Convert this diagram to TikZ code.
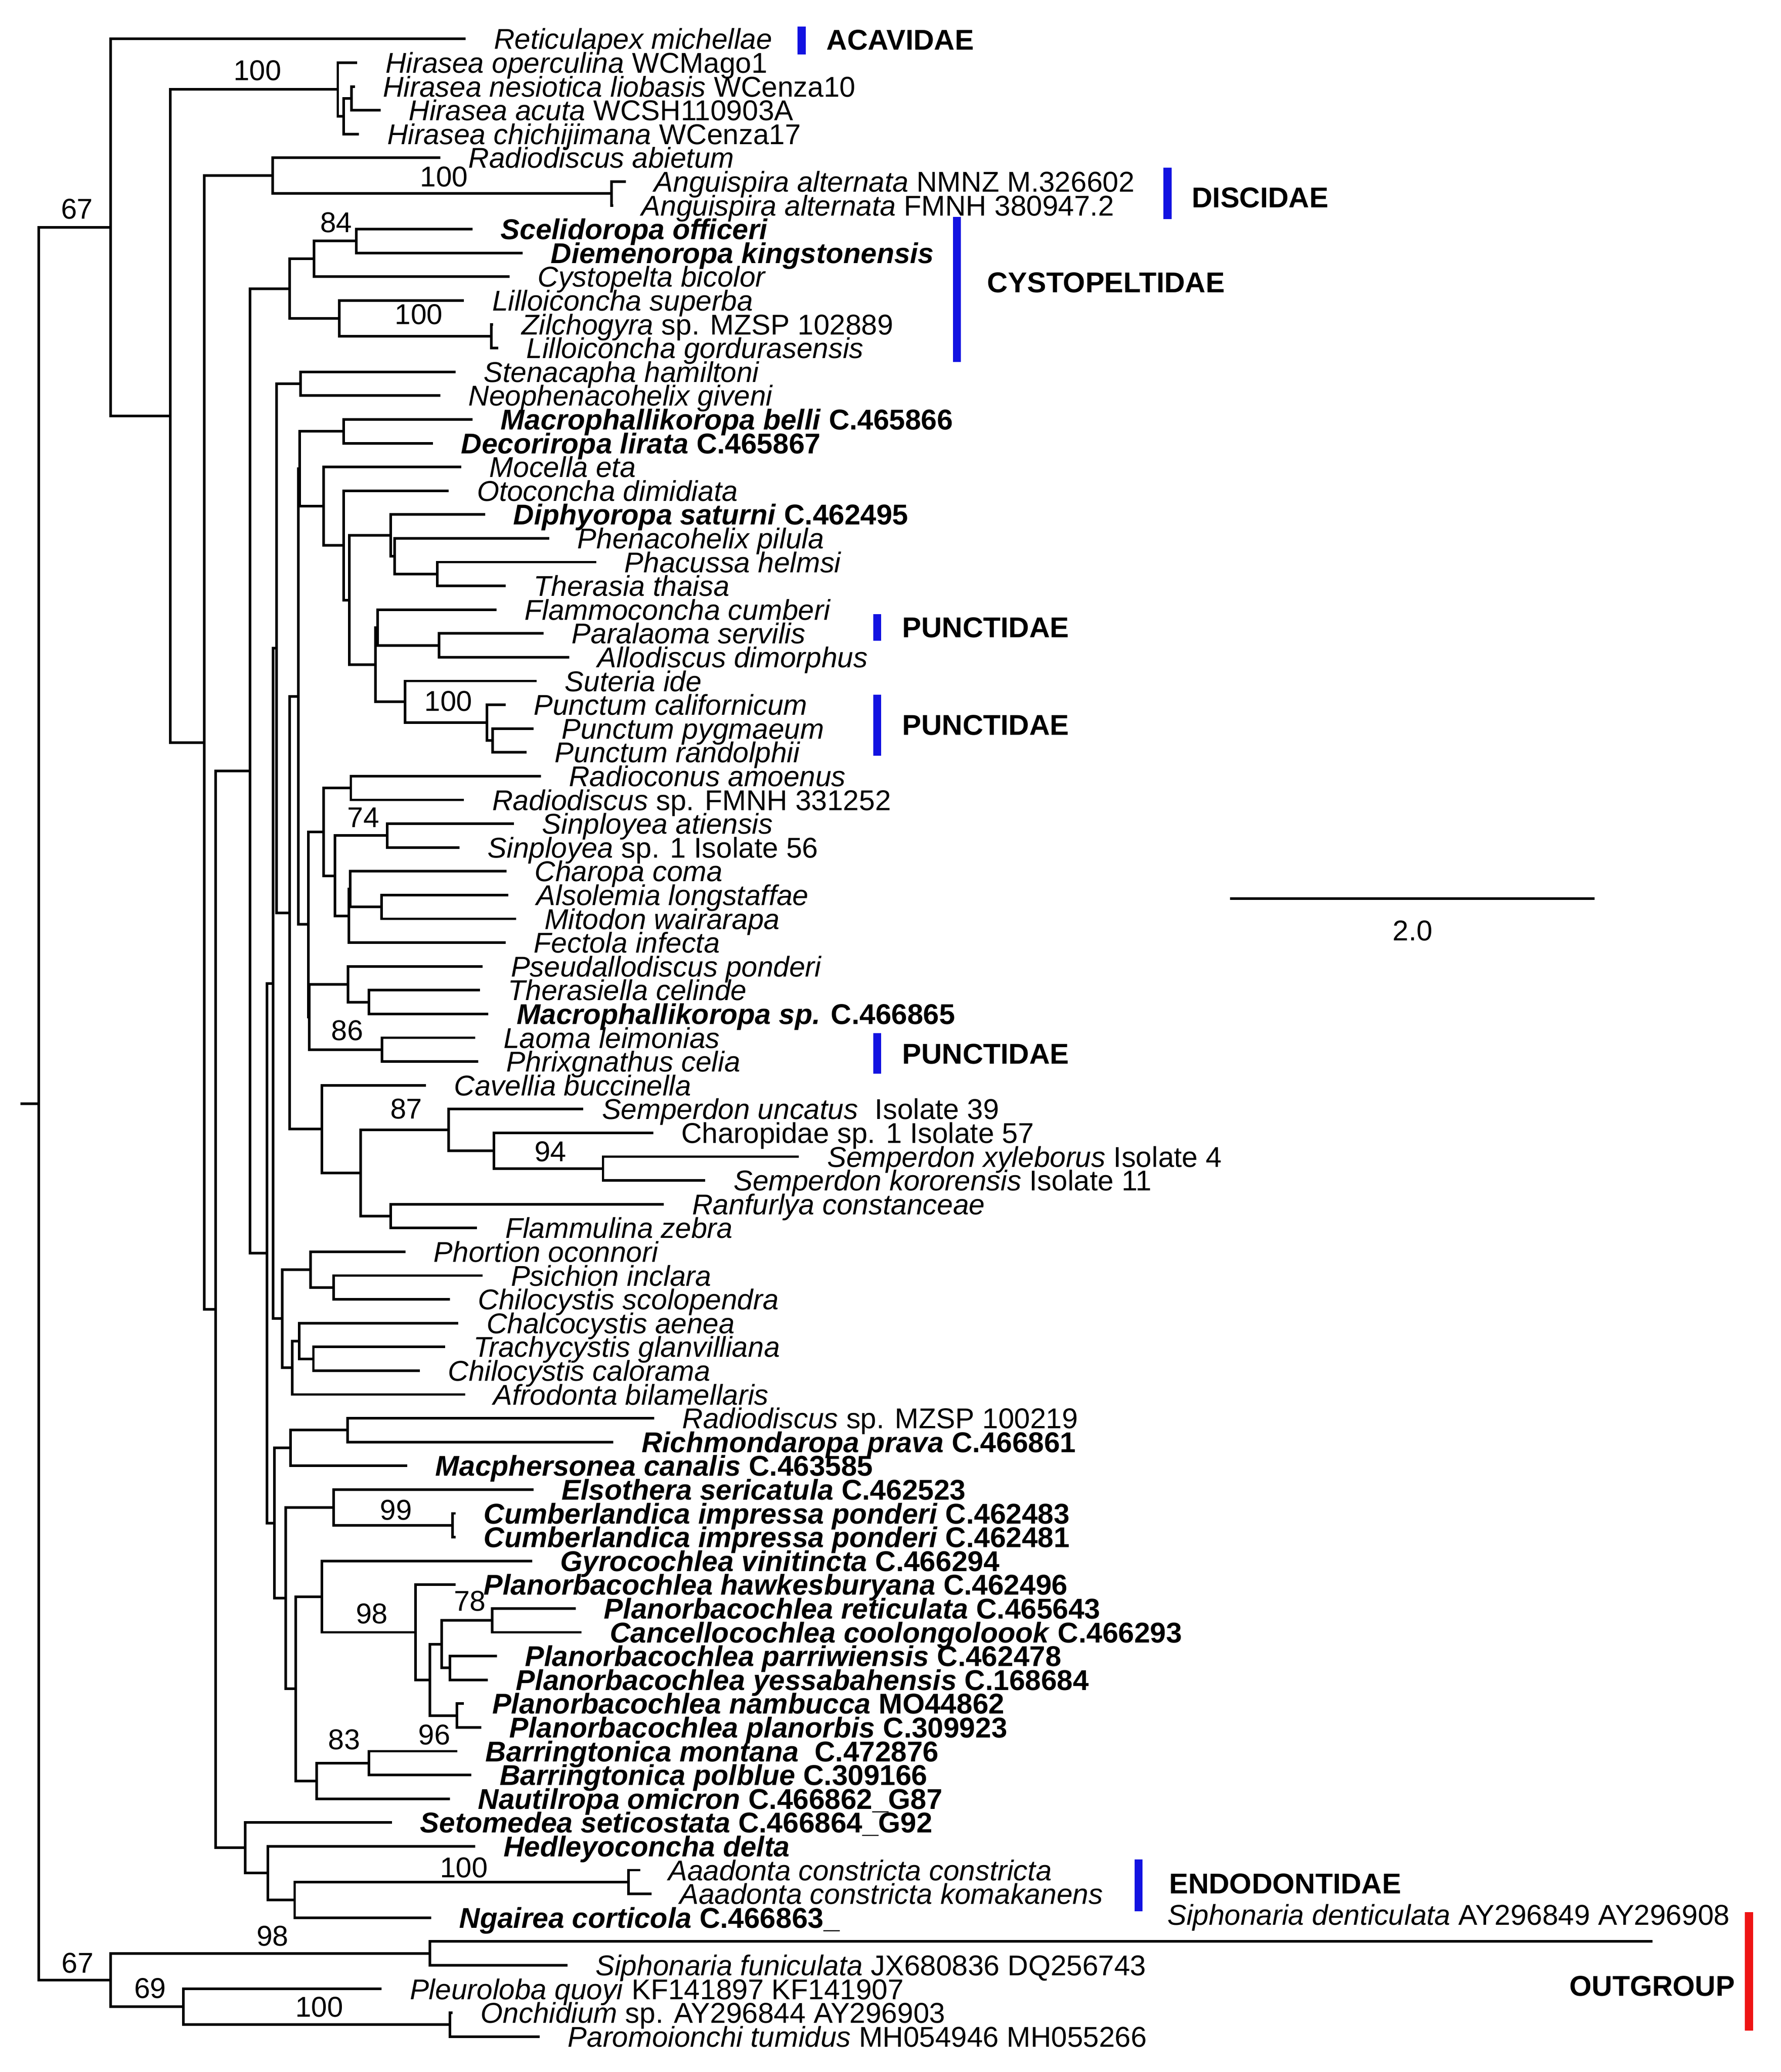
\documentclass[tikz,border=0pt]{standalone}
\usepackage{fontspec}
\setmainfont{Liberation Sans}
\usetikzlibrary{calc}
\newcommand\fsz{\fontsize{10.85pt}{12pt}\selectfont}
\definecolor{fblue}{RGB}{18,18,225}
\definecolor{fred}{RGB}{238,20,20}
\tikzset{
  br/.style={line width=0.98pt, line cap=rect, line join=miter},
  lab/.style={anchor=base west, inner sep=0pt, font=\fsz},
  sup/.style={anchor=base, inner sep=0pt, font=\fsz},
  fam/.style={anchor=base west, inner sep=0pt, font=\fsz\bfseries},
  bbar/.style={line width=3pt, fblue},
  rbar/.style={line width=3pt, fred}
}
\newcommand\lf[4]{%
  \coordinate (#1) at (#3,{29.5+18.03*(#2-1)});
  \node[lab] (#1t) at ({#3+22},{37.3+18.03*(#2-1)}) {#4};}
\newcommand\cl[4]{%
  \path let \p1=($(#3)!0.5!(#4)$) in (#2*0.5pt,\y1) coordinate (#1);
  \draw[br] (#3) -| (#1) |- (#4);}
\begin{document}
\begin{tikzpicture}[x=0.5pt,y=-0.5pt]
\path[fill=white,use as bounding box] (0,0) rectangle (1350,1570.9);
% ---- top part
\lf{L1}{1}{352.1}{\textit{Reticulapex michellae}}
\lf{L2}{2}{269.9}{\textit{Hirasea operculina} WCMago1}
\lf{L3}{3}{268}{\textit{Hirasea nesiotica liobasis} WCenza10}
\lf{L4}{4}{287.6}{\textit{Hirasea acuta} WCSH110903A}
\lf{L5}{5}{271.2}{\textit{Hirasea chichijimana} WCenza17}
\cl{H3}{266.5}{L3}{L4}
\cl{H2}{260.4}{H3}{L5}
\cl{H1}{256.1}{L2}{H2}
\lf{L6}{6}{332.8}{\textit{Radiodiscus abietum}}
\lf{L7}{7}{473.5}{\textit{Anguispira alternata} NMNZ M.326602}
\lf{L8}{8}{464}{\textit{Anguispira alternata} FMNH 380947.2}
\cl{A1}{463.6}{L7}{L8}
\cl{RA}{206.6}{L6}{A1}
\lf{L9}{9}{357.3}{\textbf{\textit{Scelidoropa officeri}}}
\lf{L10}{10}{395.2}{\textbf{\textit{Diemenoropa kingstonensis}}}
\cl{C84}{270}{L9}{L10}
\lf{L11}{11}{385.3}{\textit{Cystopelta bicolor}}
\cl{C2}{238}{C84}{L11}
\lf{L12}{12}{350.8}{\textit{Lilloiconcha superba}}
\lf{L13}{13}{373}{\textit{Zilchogyra} sp. MZSP 102889}
\lf{L14}{14}{376.7}{\textit{Lilloiconcha gordurasensis}}
\cl{Z1}{372.4}{L13}{L14}
\cl{Z2}{257.4}{L12}{Z1}
\cl{Ncys}{219.5}{C2}{Z2}
\lf{L15}{15}{344.4}{\textit{Stenacapha hamiltoni}}
\lf{L16}{16}{332.8}{\textit{Neophenacohelix giveni}}
\cl{S1}{228}{L15}{L16}
\lf{L17}{17}{357.3}{\textbf{\textit{Macrophallikoropa belli} C.465866}}
\lf{L18}{18}{327.2}{\textbf{\textit{Decoriropa lirata} C.465867}}
\cl{M1}{260.4}{L17}{L18}
\lf{L19}{19}{348.7}{\textit{Mocella eta}}
\lf{L20}{20}{339.2}{\textit{Otoconcha dimidiata}}
\lf{L21}{21}{366.8}{\textbf{\textit{Diphyoropa saturni} C.462495}}
\lf{L22}{22}{415.4}{\textit{Phenacohelix pilula}}
\lf{L23}{23}{451.1}{\textit{Phacussa helmsi}}
\lf{L24}{24}{382.3}{\textit{Therasia thaisa}}
\cl{Th}{331.5}{L23}{L24}
\cl{Ph}{299.2}{L22}{Th}
\cl{Dp}{296.2}{L21}{Ph}
\lf{L25}{25}{375.4}{\textit{Flammoconcha cumberi}}
\lf{L26}{26}{411.1}{\textit{Paralaoma servilis}}
\lf{L27}{27}{430.5}{\textit{Allodiscus dimorphus}}
\cl{Pa}{332.8}{L26}{L27}
\cl{FA}{286.2}{L25}{Pa}
\lf{L28}{28}{405.9}{\textit{Suteria ide}}
\lf{L29}{29}{382.3}{\textit{Punctum californicum}}
\lf{L30}{30}{403.4}{\textit{Punctum pygmaeum}}
\lf{L31}{31}{398.2}{\textit{Punctum randolphii}}
\cl{Pu2}{373.6}{L30}{L31}
\cl{Pu1}{369.3}{L29}{Pu2}
\cl{SP}{307}{L28}{Pu1}
\cl{FB}{284.6}{FA}{SP}
\cl{N615}{264.7}{Dp}{FB}
\cl{N605}{260.4}{L20}{N615}
\cl{N570}{245.4}{L19}{N605}
\cl{N528}{227.3}{M1}{N570}
\lf{L32}{32}{409}{\textit{Radioconus amoenus}}
\lf{L33}{33}{350.8}{\textit{Radiodiscus} sp. FMNH 331252}
\cl{R1}{266}{L32}{L33}
\lf{L34}{34}{388.7}{\textit{Sinployea atiensis}}
\lf{L35}{35}{347.4}{\textit{Sinployea} sp. 1 Isolate 56}
\cl{Si}{293.6}{L34}{L35}
\lf{L36}{36}{383.1}{\textit{Charopa coma}}
\lf{L37}{37}{384.4}{\textit{Alsolemia longstaffae}}
\lf{L38}{38}{390.4}{\textit{Mitodon wairarapa}}
\cl{Al}{289.3}{L37}{L38}
\cl{CaA}{265.6}{L36}{Al}
\lf{L39}{39}{382.3}{\textit{Fectola infecta}}
\cl{CaB}{264.6}{CaA}{L39}
\cl{N590}{254}{Si}{CaB}
\cl{N570b}{245.4}{R1}{N590}
\lf{L40}{40}{365}{\textit{Pseudallodiscus ponderi}}
\lf{L41}{41}{362.9}{\textit{Therasiella celinde}}
\lf{L42}{42}{369.3}{\textbf{\textit{Macrophallikoropa sp.} C.466865}}
\cl{Te}{279.8}{L41}{L42}
\cl{Ps}{263.9}{L40}{Te}
\lf{L43}{43}{359.4}{\textit{Laoma leimonias}}
\lf{L44}{44}{361.6}{\textit{Phrixgnathus celia}}
\cl{La}{289.7}{L43}{L44}
\cl{C543}{234.6}{Ps}{La}
\cl{D543}{233.8}{N570b}{C543}
\cl{N526}{226.3}{N528}{D543}
\lf{L45}{45}{322}{\textit{Cavellia buccinella}}
\coordinate (L46) at (441.2,{29.5+18.03*45});
\node[lab] (L46t) at (456,{37.3+18.03*45}) {\textit{Semperdon uncatus}};
\node[lab] (L46i) at (663,{37.3+18.03*45}) {Isolate 39};
\lf{L47}{47}{494.2}{Charopidae sp. 1 Isolate 57}
\lf{L48}{48}{604.8}{\textit{Semperdon xyleborus} Isolate 4}
\lf{L49}{49}{533.8}{\textit{Semperdon kororensis} Isolate 11}
\cl{Se3}{457.2}{L48}{L49}
\cl{Se2}{374.5}{L47}{Se3}
\cl{Se1}{340}{L46}{Se2}
\lf{L50}{50}{502.4}{\textit{Ranfurlya constanceae}}
\lf{L51}{51}{360.7}{\textit{Flammulina zebra}}
\cl{Rf}{296.2}{L50}{L51}
\cl{N635}{273.4}{Se1}{Rf}
\cl{Cv}{244}{L45}{N635}
\cl{N510}{219.5}{N526}{Cv}
\cl{N487}{209.6}{S1}{N510}
\lf{L52}{52}{306.5}{\textit{Phortion oconnori}}
\lf{L53}{53}{365}{\textit{Psichion inclara}}
\lf{L54}{54}{340.1}{\textit{Chilocystis scolopendra}}
\cl{Psi}{253}{L53}{L54}
\cl{Pho}{235.5}{L52}{Psi}
\lf{L55}{55}{346.5}{\textit{Chalcocystis aenea}}
\lf{L56}{56}{336.6}{\textit{Trachycystis glanvilliana}}
\lf{L57}{57}{317.3}{\textit{Chilocystis calorama}}
\cl{Tr}{237.6}{L56}{L57}
\cl{Cha}{226.9}{L55}{Tr}
\lf{L58}{58}{351.7}{\textit{Afrodonta bilamellaris}}
\cl{Afr}{221.7}{Cha}{L58}
\cl{N497}{214}{Pho}{Afr}
\cl{N480}{207}{N487}{N497}
\lf{L59}{59}{495}{\textit{Radiodiscus} sp. MZSP 100219}
\lf{L60}{60}{464.1}{\textbf{\textit{Richmondaropa prava} C.466861}}
\cl{Rd}{263.5}{L59}{L60}
\lf{L61}{61}{307.8}{\textbf{\textit{Macphersonea canalis} C.463585}}
\cl{Mac}{220.4}{Rd}{L61}
\lf{L62}{62}{403.4}{\textbf{\textit{Elsothera sericatula} C.462523}}
\lf{L63}{63}{344.4}{\textbf{\textit{Cumberlandica impressa ponderi} C.462483}}
\lf{L64}{64}{344.4}{\textbf{\textit{Cumberlandica impressa ponderi} C.462481}}
\cl{Cu}{343}{L63}{L64}
\cl{El}{253}{L62}{Cu}
\lf{L65}{65}{402.5}{\textbf{\textit{Gyrocochlea vinitincta} C.466294}}
\lf{L66}{66}{344.4}{\textbf{\textit{Planorbacochlea hawkesburyana} C.462496}}
\lf{L67}{67}{435.6}{\textbf{\textit{Planorbacochlea reticulata} C.465643}}
\lf{L68}{68}{440}{\textbf{\textit{Cancellocochlea coolongoloook} C.466293}}
\cl{P867}{373.2}{L67}{L68}
\lf{L69}{69}{375.8}{\textbf{\textit{Planorbacochlea parriwiensis} C.462478}}
\lf{L70}{70}{368.9}{\textbf{\textit{Planorbacochlea yessabahensis} C.168684}}
\cl{P792}{341}{L69}{L70}
\cl{P778}{335}{P867}{P792}
\lf{L71}{71}{350.8}{\textbf{\textit{Planorbacochlea nambucca} MO44862}}
\lf{L72}{72}{363.8}{\textbf{\textit{Planorbacochlea planorbis} C.309923}}
\cl{P805}{346.5}{L71}{L72}
\cl{P757}{326}{P778}{P805}
\cl{P732}{315.1}{L66}{P757}
\cl{Gy}{244}{L65}{P732}
\lf{L73}{73}{345.7}{\textbf{\textit{Barringtonica montana}\ \ C.472876}}
\lf{L74}{74}{356.4}{\textbf{\textit{Barringtonica polblue} C.309166}}
\cl{Ba}{279.8}{L73}{L74}
\lf{L75}{75}{340.1}{\textbf{\textit{Nautilropa omicron} C.466862\_G87}}
\cl{Na}{240.2}{Ba}{L75}
\cl{N521}{224.3}{Gy}{Na}
\cl{N503}{216.5}{El}{N521}
\cl{N483}{208}{Mac}{N503}
\cl{N202}{202.3}{N480}{N483}
\cl{N189}{189.4}{Ncys}{N202}
\lf{L76}{76}{296.2}{\textbf{\textit{Setomedea seticostata} C.466864\_G92}}
\lf{L77}{77}{359.4}{\textbf{\textit{Hedleyoconcha delta}}}
\lf{L78}{78}{484.3}{\textit{Aaadonta constricta constricta}}
\lf{L79}{79}{492.9}{\textit{Aaadonta constricta komakanens}}
\cl{Aa}{476.5}{L78}{L79}
\lf{L80}{80}{325.9}{\textbf{\textit{Ngairea corticola} C.466863\_}}
\cl{Ng}{223.4}{Aa}{L80}
\cl{He}{203.2}{L77}{Ng}
\cl{Lo}{186}{L76}{He}
\cl{N163}{163.6}{N189}{Lo}
\cl{N155}{155}{RA}{N163}
\cl{N129}{129}{H1}{N155}
\cl{N67}{84}{L1}{N129}
% ---- outgroup
\coordinate (L81) at (1252,{29.5+18.03*80});
\node[lab] (L81t) at (884.7,1459.5) {\textit{Siphonaria denticulata} AY296849 AY296908};
\lf{L82}{82}{429.2}{\textit{Siphonaria funiculata} JX680836 DQ256743}
\cl{Sd}{325.9}{L81}{L82}
\lf{L83}{83}{288.4}{\textit{Pleuroloba quoyi} KF141897 KF141907}
\lf{L84}{84}{342}{\textit{Onchidium} sp. AY296844 AY296903}
\lf{L85}{85}{408.1}{\textit{Paromoionchi tumidus} MH054946 MH055266}
\cl{On}{341}{L84}{L85}
\cl{Pl}{139}{L83}{On}
\cl{Out}{84}{Sd}{Pl}
\cl{Root}{29.3}{N67}{Out}
\coordinate (R0) at ($(Root)+(-12.9,0)$);
\draw[br] (R0) -- (Root);
% ---- support values
\node[sup] (s01) at (58.3,166) {67};
\node[sup] (s02) at (195.2,61) {100};
\node[sup] (s03) at (336.6,141.5) {100};
\node[sup] (s04) at (254.9,176.1) {84};
\node[sup] (s05) at (317.5,246) {100};
\node[sup] (s06) at (340,539.1) {100};
\node[sup] (s07) at (275.5,627.2) {74};
\node[sup] (s08) at (263.2,788.8) {86};
\node[sup] (s09) at (308,848.3) {87};
\node[sup] (s10) at (417.3,880.6) {94};
\node[sup] (s11) at (300.3,1152.2) {99};
\node[sup] (s12) at (282,1230.8) {98};
\node[sup] (s13) at (356.2,1221.2) {78};
\node[sup] (s14) at (329.3,1322.8) {96};
\node[sup] (s15) at (261,1326.3) {83};
\node[sup] (s16) at (351.7,1423.3) {100};
\node[sup] (s17) at (206.6,1475.4) {98};
\node[sup] (s18) at (58.8,1495.7) {67};
\node[sup] (s19) at (113.9,1515) {69};
\node[sup] (s20) at (242.1,1529) {100};
% ---- family bars and names
\coordinate (b1a) at (607.8,20.2);  \coordinate (b1b) at (607.8,41.3);
\coordinate (b2a) at (885.2,127.2); \coordinate (b2b) at (885.2,166);
\coordinate (b3a) at (725.4,164.3); \coordinate (b3b) at (725.4,274.4);
\coordinate (b4a) at (665,465.7);   \coordinate (b4b) at (665,485.9);
\coordinate (b5a) at (665,526.7);   \coordinate (b5b) at (665,573);
\coordinate (b6a) at (665,783.2);   \coordinate (b6b) at (665,814.1);
\coordinate (b7a) at (863.2,1409.6); \coordinate (b7b) at (863.2,1448.9);
\coordinate (b8a) at (1326,1449.8); \coordinate (b8b) at (1326,1539.4);
\draw[bbar] (b1a) -- (b1b);
\draw[bbar] (b2a) -- (b2b);
\draw[bbar] (b3a) -- (b3b);
\draw[bbar] (b4a) -- (b4b);
\draw[bbar] (b5a) -- (b5b);
\draw[bbar] (b6a) -- (b6b);
\draw[bbar] (b7a) -- (b7b);
\draw[rbar] (b8a) -- (b8b);
\node[fam] (f1) at (626.3,37.9) {ACAVIDAE};
\node[fam] (f2) at (903.2,157.5) {DISCIDAE};
\node[fam] (f3) at (748.2,221.6) {CYSTOPELTIDAE};
\node[fam] (f4) at (683.6,483.4) {PUNCTIDAE};
\node[fam] (f5) at (683.6,557.3) {PUNCTIDAE};
\node[fam] (f6) at (683.6,806.5) {PUNCTIDAE};
\node[fam] (f7) at (886,1435.7) {ENDODONTIDAE};
\node[fam] (f8) at (1189.6,1513.3) {OUTGROUP};
% ---- scale bar
\coordinate (sb1) at (932.5,681.2);
\coordinate (sb2) at (1209,681.2);
\draw[line width=0.98pt] (sb1) -- (sb2);
\node[sup] (sbl) at (1071,713.2) {2.0};
\end{tikzpicture}
\end{document}
